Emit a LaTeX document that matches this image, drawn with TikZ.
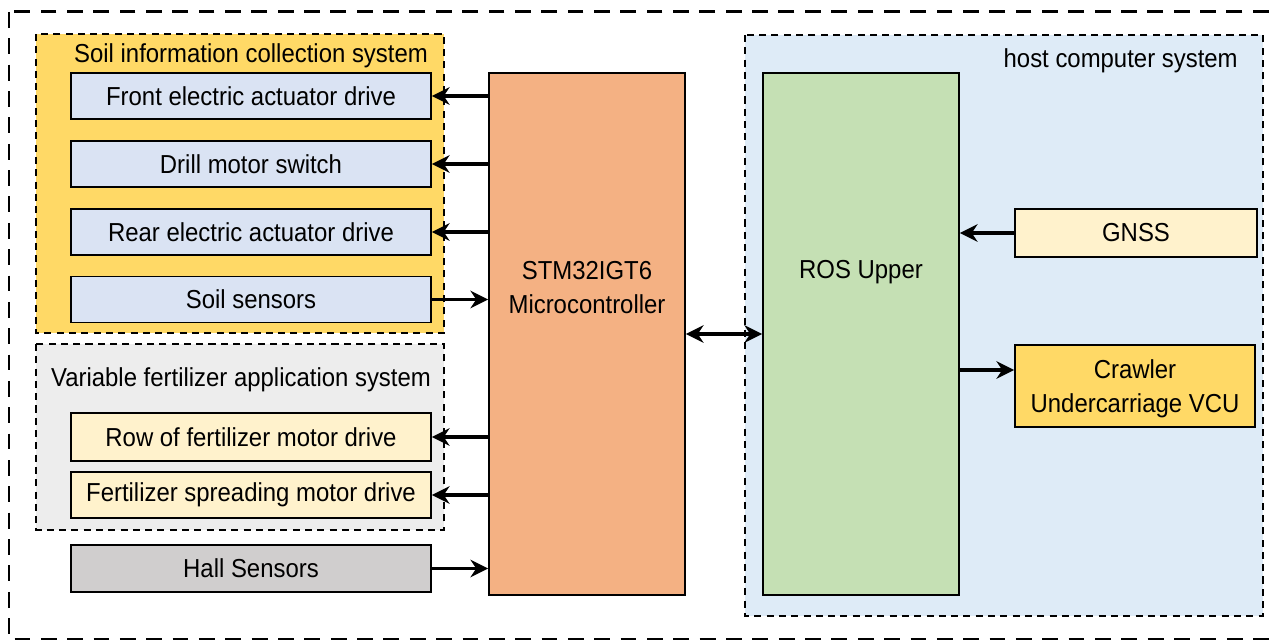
\documentclass[tikz,border=0pt]{standalone}
\usepackage{fontspec}
\setmainfont[FakeStretch=0.92]{Liberation Sans}
\usetikzlibrary{arrows.meta}
\definecolor{soilfill}{HTML}{FFD966}
\definecolor{bluebox}{HTML}{DAE3F3}
\definecolor{greyfill}{HTML}{EDEDED}
\definecolor{creambox}{HTML}{FFF2CC}
\definecolor{hallfill}{HTML}{D0CECE}
\definecolor{stmfill}{HTML}{F4B183}
\definecolor{hostfill}{HTML}{DEEBF7}
\definecolor{rosfill}{HTML}{C5E0B4}
\tikzset{
  groupbox/.style={draw=black, line width=1.1pt, dash pattern=on 4pt off 3pt},
  blockbox/.style={draw=black, line width=1.1pt, inner sep=0pt, align=center, font=\fontsize{14.8}{19.3}\selectfont},
  lbl/.style={inner sep=0pt, align=center, font=\fontsize{14.8}{19.3}\selectfont},
  conn/.style={line width=1.8pt, -{Stealth[length=10pt,width=10pt]}},
  bconn/.style={line width=1.8pt, {Stealth[length=10pt,width=10pt]}-{Stealth[length=10pt,width=10pt]}}
}
\begin{document}
\begin{tikzpicture}[x=0.02cm,y=-0.02cm]
\useasboundingbox (0,0) rectangle (1271,641);
% outer frame
\draw[line width=1.7pt, dash pattern=on 9pt off 6pt] (9,12) rectangle (1290,639);
% groups
\draw[groupbox, fill=soilfill] (36,34) rectangle (444,333);
\node[lbl] (soiltitle) at (251,56) {Soil information collection system};
\draw[groupbox, fill=greyfill] (36,344) rectangle (444,530);
\node[lbl] (vartitle) at (241,380) {Variable fertilizer application system};
\draw[groupbox, fill=hostfill] (745,35) rectangle (1263,616);
\node[lbl, anchor=east] (hosttitle) at (1238,61) {host computer system};
% blocks
\node[blockbox, fill=bluebox, minimum width=7.2cm, minimum height=0.92cm] (front) at (251,96) {Front electric actuator drive};
\node[blockbox, fill=bluebox, minimum width=7.2cm, minimum height=0.92cm] (drill) at (251,164) {Drill motor switch};
\node[blockbox, fill=bluebox, minimum width=7.2cm, minimum height=0.92cm] (rear) at (251,232) {Rear electric actuator drive};
\node[blockbox, fill=bluebox, minimum width=7.2cm, minimum height=0.92cm] (soils) at (251,299.5) {Soil sensors};
\node[blockbox, fill=creambox, minimum width=7.2cm, minimum height=0.96cm] (row) at (251,437) {Row of fertilizer motor drive};
\node[blockbox, fill=creambox, minimum width=7.2cm, minimum height=0.92cm] (spread) at (251,495) {Fertilizer spreading motor drive};
\node[blockbox, fill=hallfill, minimum width=7.2cm, minimum height=0.94cm] (hall) at (251,568.5) {Hall Sensors};
\node[blockbox, fill=stmfill, minimum width=3.92cm, minimum height=10.44cm] (stm) at (587,334) {};
\node[lbl] (stmlbl) at (587,288) {STM32IGT6\\Microcontroller};
\node[blockbox, fill=rosfill, minimum width=3.92cm, minimum height=10.44cm] (ros) at (861,334) {};
\node[lbl] (roslbl) at (861,272) {ROS Upper};
\node[blockbox, fill=creambox, minimum width=4.84cm, minimum height=0.96cm] (gnss) at (1136,233) {GNSS};
\node[blockbox, fill=soilfill, minimum width=4.8cm, minimum height=1.64cm] (crawler) at (1135,386) {};
\node[lbl] (crawlbl) at (1135,389) {Crawler\\Undercarriage VCU};
% connectors
\draw[conn] (stm.west |- front.east) -- (front.east);
\draw[conn] (stm.west |- drill.east) -- (drill.east);
\draw[conn] (stm.west |- rear.east) -- (rear.east);
\draw[conn] (soils.east) -- (stm.west |- soils.east);
\draw[conn] (stm.west |- row.east) -- (row.east);
\draw[conn] (stm.west |- spread.east) -- (spread.east);
\draw[conn] (hall.east) -- (stm.west |- hall.east);
\draw[bconn] (stm.east) -- (ros.west);
\draw[conn] (gnss.west) -- (ros.east |- gnss.west);
\coordinate (crawin) at (crawler.west |- 0,370);
\draw[conn] (ros.east |- crawin) -- (crawin);
\end{tikzpicture}
\end{document}
